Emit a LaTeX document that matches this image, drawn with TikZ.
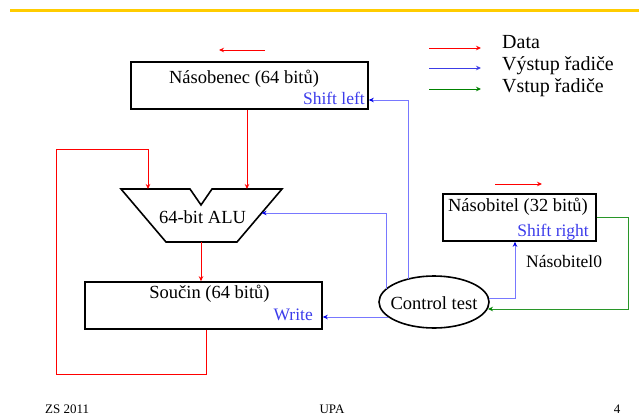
\documentclass[tikz,border=0pt]{standalone}
\usepackage{fontspec}
\setmainfont{Liberation Serif}
\usetikzlibrary{arrows.meta,shapes.geometric}
\definecolor{rulegold}{RGB}{255,204,0}
\definecolor{datared}{RGB}{255,0,0}
\definecolor{outline}{RGB}{120,120,255}
\definecolor{outtip}{RGB}{0,0,230}
\definecolor{inline}{RGB}{40,150,40}
\definecolor{legblue}{RGB}{60,60,230}
\definecolor{leggreen}{RGB}{0,130,0}
\definecolor{labelblue}{RGB}{60,60,235}
\tikzset{
  main/.style={font=\fontsize{18.5}{20}\selectfont},
  reg/.style={draw=black, line width=1.6pt, minimum height=47pt, inner sep=0pt},
  data/.style={datared, line width=0.9pt, -{Stealth[length=5pt,width=4.5pt]}},
  ctrlout/.style={outline, line width=0.9pt, -{Stealth[length=5pt,width=4.5pt,color=outtip]}},
  ctrlin/.style={inline, line width=0.9pt, -{Stealth[length=5pt,width=4.5pt,color=leggreen]}},
  sig/.style={text=labelblue, font=\fontsize{17.5}{19}\selectfont, inner sep=0pt},
  legtext/.style={font=\fontsize{20}{22}\selectfont, anchor=base west, inner sep=0pt},
  foot/.style={font=\fontsize{13}{14}\selectfont, anchor=base, inner sep=0pt}
}
\begin{document}
\begin{tikzpicture}[x=1pt,y=-1pt]
\useasboundingbox (0,0) rectangle (639,417);

% title rule
\draw[rulegold, line width=3pt] (10,10.5) -- (639,10.5);

% registers
\node[reg, minimum width=237pt] (nasobenec) at (249.5,85.5) {};
\node[main, anchor=base] (nasobenectxt) at (244,84) {Násobenec (64 bitů)};
\node[sig, anchor=base east] (shiftleft) at (365,105) {Shift left};

\node[reg, minimum width=237pt] (soucin) at (203.5,305.5) {};
\node[main, anchor=base] (soucintxt) at (209.5,298) {Součin (64 bitů)};
\node[sig, anchor=base east] (write) at (313,320) {Write};

\node[reg, minimum width=153pt] (nasobitel) at (519.5,217.5) {};
\node[main, anchor=base] (nasobiteltxt) at (518,211) {Násobitel (32 bitů)};
\node[sig, anchor=base east] (shiftright) at (589,236.5) {Shift right};

% ALU
\draw[line width=1.6pt, line join=miter]
  (121,189) -- (190,189) -- (201,205) -- (212,189) -- (282,189)
  -- (237,242) -- (166,242) -- cycle;
\node[main, anchor=base] (alu) at (202.5,223) {64-bit ALU};
\coordinate (aluL) at (148,189);
\coordinate (aluR) at (247,189);
\coordinate (aluIn) at (261.6,213);
\coordinate (aluOut) at (201,242);

% controller
\node[draw, ellipse, line width=1.6pt, minimum width=110pt, minimum height=52pt, inner sep=0pt] (ctrl) at (434,302) {};
\node[main, anchor=base] (ctrltxt) at (434,309) {Control test};
\coordinate (c1) at (386,289);
\coordinate (c2) at (408,279);
\coordinate (c3) at (388,317);
\coordinate (c4) at (489,298);
\coordinate (c5) at (488,309);
\coordinate (loopA) at (206,374);
\coordinate (loopB) at (56,149);

% data paths
\draw[data] (nasobenec.south -| aluR) -- (aluR);
\draw[data, -] (soucin.south -| loopA) -- (loopA) -| (loopB);
\draw[data] (loopB) -| (aluL);
\draw[data] (aluOut) -- (soucin.north -| aluOut);

% shift direction marks
\coordinate (slA) at (265,50);
\coordinate (slB) at (219,50);
\draw[data] (slA) -- (slB);
\coordinate (srA) at (495,184);
\coordinate (srB) at (542,184);
\draw[data] (srA) -- (srB);

% controller outputs
\draw[ctrlout] (c1) |- (aluIn);
\draw[ctrlout] (c2) |- ([yshift=-14.5pt]nasobenec.east);
\draw[ctrlout] (c3) -- (soucin.east |- c3);
\draw[ctrlout] (c4) -| ([xshift=-4.5pt]nasobitel.south);
\node[main, anchor=base west, inner sep=0pt, font=\fontsize{17.5}{19}\selectfont] (bit0) at (526,267) {Násobitel0};

% controller input
\draw[ctrlin] (nasobitel.east) -- ++(32,0) |- (c5);

% legend
\coordinate (l1a) at (429,48); \coordinate (l1b) at (481,48);
\coordinate (l2a) at (429,68); \coordinate (l2b) at (481,68);
\coordinate (l3a) at (429,89); \coordinate (l3b) at (481,89);
\draw[datared, line width=0.9pt, -{Stealth[length=5pt,width=4.5pt]}] (l1a) -- (l1b);
\draw[legblue, line width=0.9pt, -{Stealth[length=5pt,width=4.5pt]}] (l2a) -- (l2b);
\draw[leggreen, line width=0.9pt, -{Stealth[length=5pt,width=4.5pt]}] (l3a) -- (l3b);
\node[legtext] (legdata) at (502,49) {Data};
\node[legtext] (legout) at (502,71) {Výstup řadiče};
\node[legtext] (legin) at (502,93) {Vstup řadiče};

% footer
\node[foot, anchor=base west] (f1) at (45,413) {ZS 2011};
\node[foot] (f2) at (332,413) {UPA};
\node[foot] (f3) at (617,413) {4};
\end{tikzpicture}
\end{document}
